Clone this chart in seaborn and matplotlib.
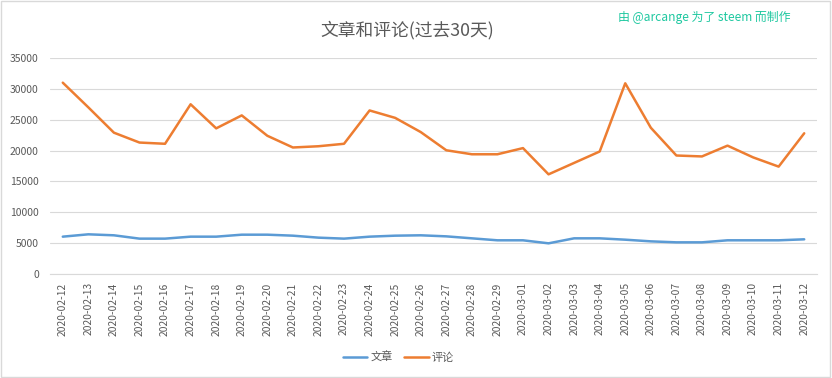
import pandas as pd
import seaborn as sns
import matplotlib.pyplot as plt

dates = ["2020-02-12", "2020-02-13", "2020-02-14", "2020-02-15", "2020-02-16",
         "2020-02-17", "2020-02-18", "2020-02-19", "2020-02-20", "2020-02-21",
         "2020-02-22", "2020-02-23", "2020-02-24", "2020-02-25", "2020-02-26",
         "2020-02-27", "2020-02-28", "2020-02-29", "2020-03-01", "2020-03-02",
         "2020-03-03", "2020-03-04", "2020-03-05", "2020-03-06", "2020-03-07",
         "2020-03-08", "2020-03-09", "2020-03-10", "2020-03-11", "2020-03-12"]
posts = [6050, 6430, 6270, 5730, 5730, 6050, 6050, 6370, 6370, 6210,
         5890, 5730, 6050, 6210, 6270, 6100, 5780, 5460, 5460, 4970,
         5780, 5780, 5560, 5290, 5130, 5130, 5460, 5460, 5460, 5620]
comments = [31000, 27000, 22900, 21300, 21100, 27500, 23600, 25700, 22400, 20500,
            20700, 21100, 26500, 25300, 23000, 20050, 19400, 19400, 20400, 16150,
            18000, 19850, 30900, 23700, 19200, 19050, 20800, 18900, 17400, 22800]

df = pd.DataFrame({"date": dates * 2,
                   "value": posts + comments,
                   "series": ["文章"] * len(dates) + ["评论"] * len(dates)})

sns.set_style("white")
plt.rcParams["font.family"] = ["Noto Sans CJK SC", "DejaVu Sans"]

fig = plt.figure(figsize=(8.32, 3.78), dpi=100)
ax = fig.add_axes([50 / 832, 1 - 274 / 378, 767 / 832, 216 / 378])

sns.lineplot(data=df, x="date", y="value", hue="series", sort=False,
             palette={"文章": "#5B9BD5", "评论": "#ED7D31"}, linewidth=1.8, ax=ax)

ax.set_xlim(-0.5, len(dates) - 0.5)
ax.set_ylim(0, 35000)
ax.set_yticks(range(0, 35001, 5000))
ax.yaxis.grid(True, color="#d9d9d9", linewidth=0.8)
ax.set_axisbelow(True)
for s in ["top", "right", "left"]:
    ax.spines[s].set_visible(False)
ax.spines["bottom"].set_color("#d9d9d9")
ax.tick_params(axis="x", rotation=90, labelsize=7.4, colors="#595959", length=0, pad=6)
ax.tick_params(axis="y", labelsize=7.5, colors="#595959", length=0, pad=8)
ax.set_xlabel("")
ax.set_ylabel("")

leg = ax.legend(loc="center", bbox_to_anchor=(0.479, (378 - 357) / 378),
                bbox_transform=fig.transFigure, ncol=2, frameon=False,
                fontsize=8, handlelength=2.2, columnspacing=1.0, handletextpad=0.3)
for t in leg.get_texts():
    t.set_color("#595959")

fig.text(0.49, 1 - 30 / 378, "文章和评论(过去30天)", ha="center", va="center",
         fontsize=12.8, color="#595959")
fig.text(790 / 832, 1 - 17 / 378, "由 @arcange 为了 steem 而制作", ha="right",
         va="center", fontsize=8.6, color="#1ec8a0")

fig.patches.append(plt.Rectangle((0.001, 0.002), 0.997, 0.995, transform=fig.transFigure,
                                 fill=False, edgecolor="#d9d9d9", linewidth=1))

fig.savefig("out.png", dpi=100)
